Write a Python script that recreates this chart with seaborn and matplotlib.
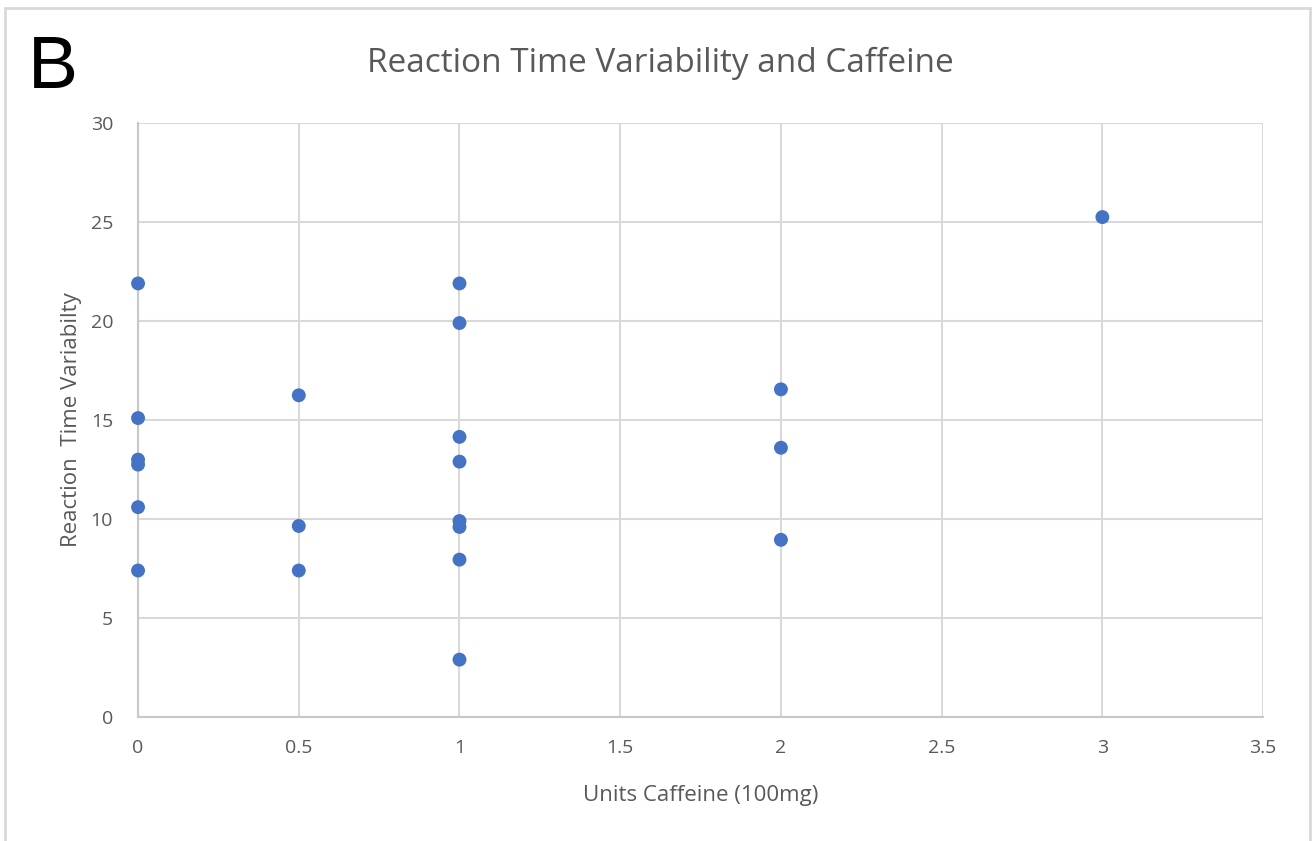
import matplotlib
matplotlib.use("Agg")
import matplotlib.pyplot as plt
import seaborn as sns
import pandas as pd
from matplotlib.patches import Rectangle

# data
caffeine = [0, 0, 0, 0, 0, 0,
            0.5, 0.5, 0.5,
            1, 1, 1, 1, 1, 1, 1, 1,
            2, 2, 2,
            3]
variability = [21.9, 15.1, 13.0, 12.75, 10.6, 7.4,
               16.25, 9.65, 7.4,
               21.9, 19.9, 14.15, 12.9, 9.9, 9.6, 7.95, 2.9,
               16.55, 13.6, 8.95,
               25.25]
x_ticks = [0, 0.5, 1, 1.5, 2, 2.5, 3, 3.5]
y_ticks = [0, 5, 10, 15, 20, 25, 30]

df = pd.DataFrame({"caffeine": caffeine, "variability": variability})

sns.set_style("white")
plt.rcParams['font.family'] = ['Open Sans', 'DejaVu Sans']

grey_txt = "#595959"
grid_col = "#d9d9d9"

fig = plt.figure(figsize=(13.16, 8.41), dpi=100)
ax = fig.add_axes([0.1049, 0.1474, 0.8549, 0.7063])

sns.scatterplot(data=df, x="caffeine", y="variability", ax=ax,
                color="#4472C4", s=100, edgecolor="none", zorder=3, clip_on=False)

ax.set_xlim(0, 3.5)
ax.set_ylim(0, 30)
ax.set_xticks(x_ticks)
ax.set_xticklabels([f"{t:g}" for t in x_ticks])
ax.set_yticks(y_ticks)
ax.grid(True, color=grid_col, linewidth=1.5)
ax.set_axisbelow(True)
for side in ["top", "right"]:
    ax.spines[side].set_visible(False)
for side in ["left", "bottom"]:
    ax.spines[side].set_color("#c8c8c8")
    ax.spines[side].set_linewidth(1.5)
ax.tick_params(axis="x", length=0, labelsize=14, colors=grey_txt, pad=16)
ax.tick_params(axis="y", length=0, labelsize=14, colors=grey_txt, pad=18)

ax.set_xlabel("Units Caffeine (100mg)", fontsize=16, color=grey_txt, labelpad=20)
ax.set_ylabel("Reaction  Time Variabilty", fontsize=16, color=grey_txt, labelpad=6)

fig.text(0.5015, 0.925, "Reaction Time Variability and Caffeine", ha="center", va="center",
         fontsize=24, color=grey_txt)
fig.text(0.021, 0.918, "B", ha="left", va="center", fontsize=54,
         color="black", family="Liberation Sans")

# light frame around the whole chart
fig.patches.append(Rectangle((0.0038, -0.02), 0.9916, 1.0105, transform=fig.transFigure,
                             fill=False, edgecolor=grid_col, linewidth=2))

fig.savefig("out.png", dpi=100)
